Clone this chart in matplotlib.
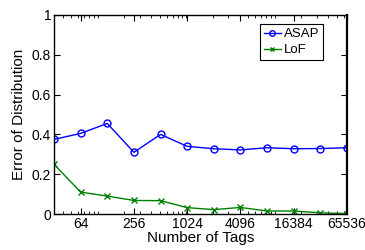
import matplotlib
matplotlib.use("Agg")
import matplotlib.pyplot as plt
from matplotlib.ticker import FixedLocator, FixedFormatter, NullFormatter

plt.rcParams['font.family'] = ['Liberation Sans', 'DejaVu Sans']

tags = [32, 64, 128, 256, 512, 1024, 2048, 4096, 8192, 16384, 32768, 65536]
asap = [0.375, 0.405, 0.455, 0.31, 0.40, 0.34, 0.328, 0.322, 0.333, 0.328, 0.329, 0.333]
lof = [0.25, 0.11, 0.09, 0.068, 0.067, 0.032, 0.022, 0.033, 0.015, 0.015, 0.006, 0.002]
xticks = [64, 256, 1024, 4096, 16384, 65536]
yticks = [0, 0.2, 0.4, 0.6, 0.8, 1]

fig = plt.figure(figsize=(3.65, 2.5), dpi=100)
ax = fig.add_axes([54/365, 1-214/250, 293/365, 199/250])
ax.plot(tags, asap, color='#0000ff', marker='o', markersize=5, markerfacecolor='none',
        markeredgewidth=1, linewidth=1, label='ASAP')
ax.plot(tags, lof, color='#008000', marker='x', markersize=4, markeredgewidth=1,
        linewidth=1, label='LoF')
ax.set_xscale('log', base=2)
ax.set_xlim(32, 65536)
ax.set_ylim(0, 1)
ax.xaxis.set_major_locator(FixedLocator(xticks))
ax.xaxis.set_major_formatter(FixedFormatter([str(t) for t in xticks]))
minor = [k * 10**n for n in range(1, 5) for k in range(1, 10)
         if 32 < k * 10**n < 65536]
ax.xaxis.set_minor_locator(FixedLocator(minor))
ax.xaxis.set_minor_formatter(NullFormatter())
ax.set_yticks(yticks)
ax.set_yticklabels(['0', '0.2', '0.4', '0.6', '0.8', '1'])
ax.tick_params(direction='in', which='both', top=True, right=True, labelsize=10, pad=2)
ax.tick_params(which='major', length=4)
ax.tick_params(which='minor', length=2)
for s in ax.spines.values():
    s.set_linewidth(1.0)
ax.spines['right'].set_linewidth(1.6)
ax.set_xlabel('Number of Tags', fontsize=11, labelpad=0)
ax.set_ylabel('Error of Distribution', fontsize=11, labelpad=4)
leg = ax.legend(loc='upper right', bbox_to_anchor=(0.918, 0.955), fontsize=9.5,
                fancybox=False, edgecolor='black', framealpha=1, handlelength=1.3,
                handletextpad=0.2, borderpad=0.3, labelspacing=0.3, borderaxespad=0,
                markerscale=0.8)
leg.get_frame().set_linewidth(0.8)
fig.savefig('out.png', dpi=100)
